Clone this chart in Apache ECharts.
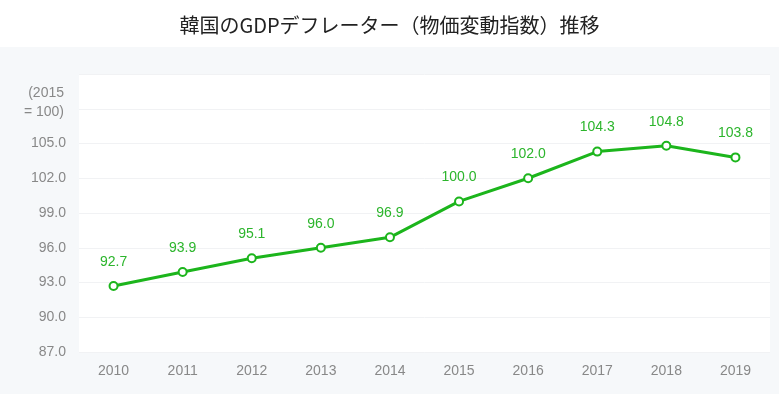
<!DOCTYPE html>
<html>
<head>
<meta charset="utf-8">
<script src="https://cdn.jsdelivr.net/npm/echarts@6/dist/echarts.min.js"></script>
<style>
html,body{margin:0;padding:0;background:#fff;}
#c{width:779px;height:394px;}
</style>
</head>
<body>
<div id="c"></div>
<script>
const titleText = '韓国のGDPデフレーター（物価変動指数）推移';
const years = ['2010','2011','2012','2013','2014','2015','2016','2017','2018','2019'];
const deflator = [92.7, 93.9, 95.1, 96.0, 96.9, 100.0, 102.0, 104.3, 104.8, 103.8];
const unitLabel = '(2015\n= 100)';
const yMin = 87, yMax = 111, yStep = 3;

const chart = echarts.init(document.getElementById('c'));
chart.setOption({
  animation: false,
  backgroundColor: 'transparent',
  graphic: [{
    type: 'rect', left: 0, top: 47, z: -10,
    shape: { width: 779, height: 347 },
    style: { fill: '#f6f8fa' }
  }],
  title: {
    text: titleText, left: 'center', top: 10,
    textStyle: { fontFamily: 'Noto Sans CJK JP', fontWeight: 'normal', fontSize: 20, color: '#222' }
  },
  grid: { left: 79, right: 9, top: 74, bottom: 42, show: true, backgroundColor: '#ffffff', borderWidth: 0 },
  xAxis: {
    type: 'category', data: years, boundaryGap: true,
    axisLine: { show: false }, axisTick: { show: false },
    axisLabel: { color: '#888', fontSize: 14, fontFamily: 'Liberation Sans', margin: 12 }
  },
  yAxis: {
    type: 'value', min: yMin, max: yMax, interval: yStep,
    name: unitLabel, nameLocation: 'end', nameGap: -10,
    nameTextStyle: {
      color: '#888', fontSize: 14, fontFamily: 'Liberation Sans', lineHeight: 19,
      align: 'right', verticalAlign: 'top', padding: [0, 15, 0, 0]
    },
    axisLine: { show: false }, axisTick: { show: false },
    splitLine: { lineStyle: { color: '#f1f2f4', width: 1 } },
    axisLabel: {
      color: '#888', fontSize: 14, fontFamily: 'Liberation Sans', margin: 13,
      formatter: function (v) {
        if (v >= yMax - yStep) return '';
        return v.toFixed(1);
      }
    }
  },
  series: [{
    type: 'line', data: deflator,
    symbol: 'circle', symbolSize: 8, showAllSymbol: true,
    lineStyle: { color: '#1cb51c', width: 3 },
    itemStyle: { color: '#ffffff', borderColor: '#1cb51c', borderWidth: 2 },
    label: {
      show: true, position: 'top', distance: 12,
      color: '#2cb52c', fontSize: 14, fontFamily: 'Liberation Sans',
      formatter: function (p) { return p.value.toFixed(1); }
    }
  }]
});
</script>
</body>
</html>
